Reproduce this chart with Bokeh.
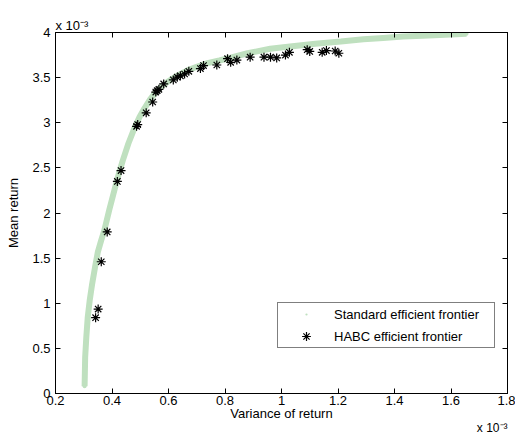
from bokeh.plotting import figure
from bokeh.models import LinearAxis, FixedTicker, Title
from bokeh.embed import file_html
from bokeh.resources import INLINE

# ---- data, variance and mean in units of 1e-3 ----
std_var = [0.303, 0.305, 0.309, 0.314, 0.321, 0.330, 0.340, 0.350, 0.362, 0.373,
           0.390, 0.405, 0.420, 0.438, 0.458, 0.478, 0.497, 0.515, 0.535, 0.555,
           0.575, 0.600, 0.630, 0.667, 0.700, 0.738, 0.780, 0.820, 0.880, 0.960,
           1.030, 1.120, 1.210, 1.290, 1.360, 1.430, 1.500, 1.580, 1.655]
std_mean = [0.08, 0.40, 0.62, 0.84, 1.03, 1.22, 1.40, 1.57, 1.70, 1.81,
            2.03, 2.21, 2.39, 2.58, 2.77, 2.93, 3.06, 3.16, 3.26, 3.34,
            3.40, 3.46, 3.52, 3.58, 3.62, 3.66, 3.69, 3.72, 3.77, 3.82,
            3.845, 3.875, 3.90, 3.925, 3.94, 3.955, 3.965, 3.975, 3.985]

habc_var = [0.342, 0.351, 0.362, 0.383, 0.419, 0.432, 0.487, 0.491, 0.521, 0.544,
            0.555, 0.560, 0.566, 0.583, 0.617, 0.631, 0.642, 0.657, 0.672, 0.713,
            0.724, 0.771, 0.809, 0.820, 0.842, 0.889, 0.938, 0.961, 0.983, 1.014,
            1.028, 1.091, 1.100, 1.144, 1.159, 1.190, 1.203]
habc_mean = [0.84, 0.935, 1.46, 1.79, 2.35, 2.47, 2.96, 2.98, 3.11, 3.23,
             3.34, 3.355, 3.37, 3.43, 3.475, 3.505, 3.52, 3.54, 3.57, 3.60,
             3.634, 3.64, 3.71, 3.67, 3.695, 3.727, 3.727, 3.727, 3.718, 3.75,
             3.78, 3.81, 3.79, 3.78, 3.80, 3.795, 3.77]

x_ticks = [0.2, 0.4, 0.6, 0.8, 1.0, 1.2, 1.4, 1.6, 1.8]
x_tick_labels = ["0.2", "0.4", "0.6", "0.8", "1", "1.2", "1.4", "1.6", "1.8"]
y_ticks = [0, 0.5, 1, 1.5, 2, 2.5, 3, 3.5, 4]
y_tick_labels = ["0", "0.5", "1", "1.5", "2", "2.5", "3", "3.5", "4"]

FONT = "Liberation Sans"
FS = "13px"
GREEN = "#bfe0bf"

p = figure(frame_width=452, frame_height=361, x_range=(0.2, 1.8), y_range=(0, 4),
           output_backend="svg", toolbar_location=None,
           min_border_left=55, min_border_top=32, min_border_right=8, min_border_bottom=45)
p.grid.visible = False
p.outline_line_color = "black"
p.background_fill_color = "white"
p.border_fill_color = "white"

def style_axis(ax, show_labels, ticks, labels, standoff):
    ax.ticker = FixedTicker(ticks=ticks)
    ax.major_label_overrides = {t: l for t, l in zip(ticks, labels)}
    ax.major_tick_in = 5
    ax.major_tick_out = 0
    ax.minor_tick_in = 0
    ax.minor_tick_out = 0
    ax.axis_line_color = "black"
    ax.major_tick_line_color = "black"
    ax.major_label_text_font = FONT
    ax.major_label_text_color = "black"
    if show_labels:
        ax.major_label_text_font_size = FS
        ax.major_label_standoff = standoff
    else:
        ax.major_label_text_alpha = 0
        ax.major_label_text_font_size = "1px"
        ax.major_label_standoff = 0
    ax.axis_label_text_font = FONT
    ax.axis_label_text_font_size = FS
    ax.axis_label_text_font_style = "normal"
    ax.axis_label_text_color = "black"

xa = p.xaxis[0]
ya = p.yaxis[0]
style_axis(xa, True, x_ticks, x_tick_labels, 2)
style_axis(ya, True, y_ticks, y_tick_labels, 5)
xa.axis_label = "Variance of return"
xa.axis_label_standoff = -2
ya.axis_label = "Mean return"
ya.axis_label_standoff = 8

top = LinearAxis()
right = LinearAxis()
style_axis(top, False, x_ticks, x_tick_labels, 0)
style_axis(right, False, y_ticks, y_tick_labels, 0)
p.add_layout(top, "above")
p.add_layout(right, "right")

# exponent multipliers of the axes
p.add_layout(Title(text="x 10\u207b\u00b3", align="left", text_font=FONT, text_font_size=FS,
                   text_font_style="normal", text_color="black", standoff=0, offset=0), "above")
p.add_layout(Title(text="x 10\u207b\u00b3", align="right", text_font=FONT, text_font_size="12px",
                   text_font_style="normal", text_color="black", standoff=-9, offset=0), "below")

# standard efficient frontier (dense light-green dots)
p.line(std_var, std_mean, line_color=GREEN, line_width=6)
p.scatter(std_var, std_mean, marker="dot", size=16, fill_color=GREEN,
          line_color=GREEN, line_width=3, legend_label="Standard efficient frontier")
# HABC efficient frontier
p.scatter(habc_var, habc_mean, marker="asterisk", size=9, line_color="black",
          line_width=1.2, legend_label="HABC efficient frontier")

lg = p.legend[0]
lg.location = (222, 45)
lg.margin = 0
lg.padding = 0
lg.spacing = 0
lg.glyph_width = 56
lg.glyph_height = 22
lg.label_height = 22
lg.label_width = 160
lg.label_standoff = 0
lg.label_text_font = FONT
lg.label_text_font_size = FS
lg.label_text_color = "black"
lg.label_text_baseline = "middle"
lg.border_line_color = "black"
lg.border_line_width = 1
lg.background_fill_color = "white"
lg.background_fill_alpha = 1

open("out.html", "w").write(file_html(p, INLINE))
